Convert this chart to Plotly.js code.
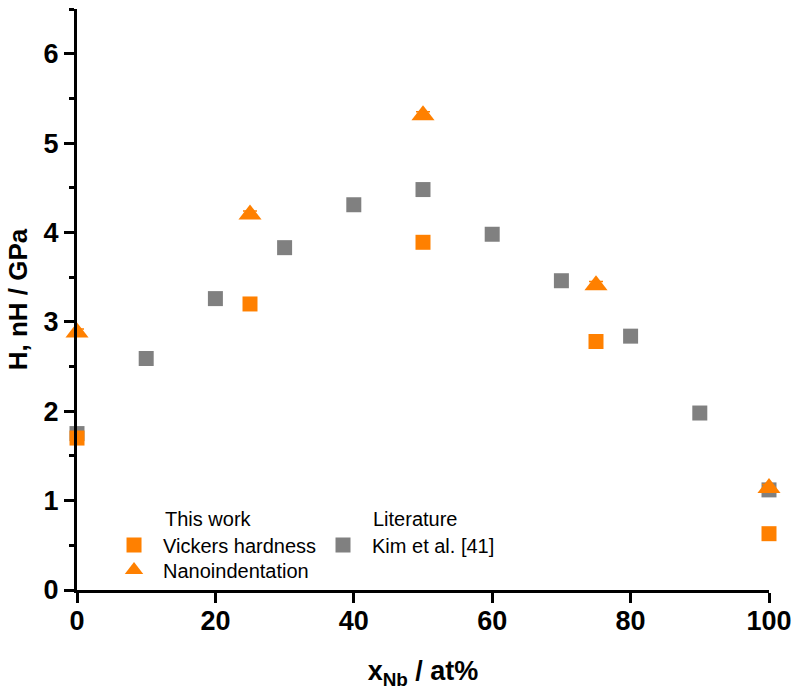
<!DOCTYPE html>
<html>
<head>
<meta charset="utf-8">
<script src="https://cdn.plot.ly/plotly-3.0.1.min.js"></script>
<style>html,body{margin:0;padding:0;background:#fff;}#chart{width:796px;height:690px;}</style>
</head>
<body>
<div id="chart"></div>
<script>
// Data
const thisWorkX = [0, 25, 50, 75, 100];
const vickersH = [1.70, 3.20, 3.89, 2.78, 0.63];
const nanoH = [2.88, 4.20, 5.31, 3.41, 1.14];
const nanoErr = [0.04, 0.04, 0.04, 0.04, 0.04];
const kimX = [0, 10, 20, 30, 40, 50, 60, 70, 80, 90, 100];
const kimH = [1.75, 2.59, 3.26, 3.83, 4.31, 4.48, 3.98, 3.46, 2.84, 1.98, 1.12];
const xTicks = [0, 20, 40, 60, 80, 100];
const yTicks = [0, 1, 2, 3, 4, 5, 6];

const ORANGE = '#FF8000';
const GREY = '#808080';
const FONT = 'Arial, "Liberation Sans", sans-serif';

const traces = [
  {
    x: kimX, y: kimH, type: 'scatter', mode: 'markers', name: 'Kim et al. [41]',
    legend: 'legend2', cliponaxis: false,
    marker: {symbol: 'square', size: 15, color: GREY}
  },
  {
    x: thisWorkX, y: vickersH, type: 'scatter', mode: 'markers', name: 'Vickers hardness',
    cliponaxis: false,
    marker: {symbol: 'square', size: 15, color: ORANGE}
  },
  {
    x: thisWorkX, y: nanoH, type: 'scatter', mode: 'markers', name: 'Nanoindentation',
    legend: 'legend3', cliponaxis: false,
    error_y: {type: 'data', array: nanoErr, visible: true, color: ORANGE, thickness: 1.5, width: 7},
    marker: {symbol: 'triangle-up', size: 20, color: ORANGE}
  }
];

const legendBase = {
  xanchor: 'left', yanchor: 'top',
  bgcolor: 'rgba(0,0,0,0)', borderwidth: 0, itemwidth: 48,
  font: {family: FONT, size: 20, color: '#000'}
};

const layout = {
  width: 796, height: 690,
  margin: {l: 77, r: 27, t: 9, b: 100, pad: 0},
  paper_bgcolor: '#fff', plot_bgcolor: '#fff',
  font: {family: FONT, color: '#000'},
  showlegend: true,
  xaxis: {
    range: [0, 100], tickvals: xTicks, ticktext: xTicks.map(String),
    showgrid: false, zeroline: false, showline: true, linecolor: '#000', linewidth: 3,
    ticks: 'outside', ticklen: 10, tickwidth: 3, tickcolor: '#000',
    ticklabelstandoff: -5,
    tickfont: {family: FONT, size: 27, weight: 'bold', color: '#000'},
    title: {text: 'x<sub>Nb</sub> / at%', font: {family: FONT, size: 27, weight: 'bold', color: '#000'}, standoff: 30}
  },
  yaxis: {
    range: [0, 6.5], tickvals: yTicks, ticktext: yTicks.map(String),
    showgrid: false, zeroline: false, showline: true, linecolor: '#000', linewidth: 3,
    ticks: 'outside', ticklen: 10, tickwidth: 3, tickcolor: '#000',
    minor: {dtick: 0.5, ticks: 'outside', ticklen: 5, tickwidth: 3, tickcolor: '#000', showgrid: false},
    tickfont: {family: FONT, size: 27, weight: 'bold', color: '#000'},
    title: {text: 'H, nH / GPa', font: {family: FONT, size: 26, weight: 'bold', color: '#000'}, standoff: 9}
  },
  legend: Object.assign({}, legendBase, {x: 0.0405, y: 0.111}),
  legend3: Object.assign({}, legendBase, {x: 0.0405, y: 0.068}),
  legend2: Object.assign({}, legendBase, {x: 0.3425, y: 0.111}),
  annotations: [
    {text: 'This work', xref: 'paper', yref: 'paper', x: 0.1243, y: 0.1222, xanchor: 'left', yanchor: 'middle',
     showarrow: false, font: {family: FONT, size: 20, color: '#000'}},
    {text: 'Literature', xref: 'paper', yref: 'paper', x: 0.4249, y: 0.1222, xanchor: 'left', yanchor: 'middle',
     showarrow: false, font: {family: FONT, size: 20, color: '#000'}}
  ]
};

Plotly.newPlot('chart', traces, layout, {displayModeBar: false, staticPlot: true});
</script>
</body>
</html>
